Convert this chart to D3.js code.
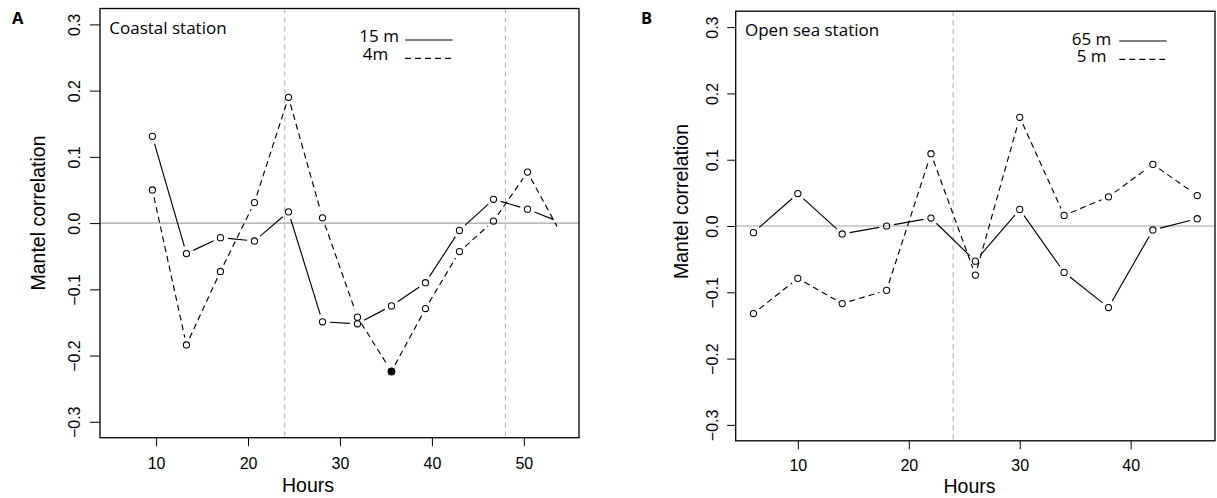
<!DOCTYPE html>
<html>
<head>
<meta charset="utf-8">
<script src="https://cdn.jsdelivr.net/npm/d3@7"></script>
<style>
  html, body { margin: 0; padding: 0; background: #fff; }
  svg { display: block; }
  .axis text { font-family: "Liberation Sans", Arial, Helvetica, sans-serif; font-size: 16px; fill: #000; }
  .axis line { stroke: #000; stroke-width: 1; }
  .axis path { display: none; }
  .title { font-family: "Liberation Sans", Arial, Helvetica, sans-serif; font-size: 19.5px; fill: #000; }
  .note { font-family: "Open Sans", "Noto Sans", sans-serif; font-size: 17px; fill: #000; }
  .tag { font-family: "Open Sans", "Noto Sans", sans-serif; font-size: 16.5px; font-weight: 700; fill: #000; }
</style>
</head>
<body>
<svg id="chart" width="1217" height="498"></svg>
<script>
// Coastal station: sampling hours and Mantel correlations at two depths
const hoursCoastal = [9.6, 13.3, 17.0, 20.7, 24.4, 28.1, 31.9, 35.6, 39.3, 43.0, 46.7, 50.4, 54.0];
const coastal15m   = [0.131, -0.046, -0.022, -0.027, 0.017, -0.149, -0.152, -0.125, -0.090, -0.011, 0.036, 0.021, 0.001];
const coastal4m    = [0.050, -0.184, -0.073, 0.031, 0.190, 0.008, -0.142, -0.224, -0.129, -0.043, 0.003, 0.077, -0.015];
const coastalFilledHours = [35.6];          // significant value on the 4 m series
const coastalMarkedCount = 12;              // last value is joined by the line only

// Open sea station
const hoursOpen = [6, 10, 14, 18, 22, 26, 30, 34, 38, 42, 46];
const open65m   = [-0.010, 0.049, -0.012, 0.000, 0.012, -0.053, 0.025, -0.070, -0.123, -0.006, 0.011];
const open5m    = [-0.132, -0.079, -0.117, -0.097, 0.109, -0.074, 0.164, 0.016, 0.044, 0.093, 0.046];

// Axis ticks and reference lines
const yTicks = [-0.3, -0.2, -0.1, 0.0, 0.1, 0.2, 0.3];
const xTicksCoastal = [10, 20, 30, 40, 50];
const xTicksOpen = [10, 20, 30, 40];
const dayLinesCoastal = [24, 48];
const dayLinesOpen = [24];

const svg = d3.select("#chart");
const fmt = v => (v < 0 ? "\u2212" : "") + Math.abs(v).toFixed(1);

function drawPanel(o) {
  const x = d3.scaleLinear().domain(o.xDomain).range([o.left, o.right]);
  const y = d3.scaleLinear().domain([-0.324, 0.324]).range([o.bottom, o.top]);
  const g = svg.append("g");

  // zero reference line
  g.append("line")
    .attr("x1", o.left).attr("x2", o.right)
    .attr("y1", y(0)).attr("y2", y(0))
    .attr("stroke", "#a3a3a3").attr("stroke-width", 1.1);

  // day boundaries
  g.selectAll("line.day").data(o.dayLines).enter().append("line")
    .attr("class", "day")
    .attr("x1", d => x(d)).attr("x2", d => x(d))
    .attr("y1", o.top).attr("y2", o.bottom)
    .attr("stroke", "#b0b0b0").attr("stroke-width", 1.1)
    .attr("stroke-dasharray", "5,4");

  // series: segments are trimmed around each point
  const gap = 7.5;
  o.series.forEach(s => {
    const pts = s.hours.map((h, i) => [x(h), y(s.values[i])]);
    for (let i = 0; i < pts.length - 1; i++) {
      const [x0, y0] = pts[i], [x1, y1] = pts[i + 1];
      const len = Math.hypot(x1 - x0, y1 - y0);
      if (len <= 2 * gap) continue;
      const ux = (x1 - x0) / len, uy = (y1 - y0) / len;
      g.append("line")
        .attr("x1", x0 + ux * gap).attr("y1", y0 + uy * gap)
        .attr("x2", x1 - ux * gap).attr("y2", y1 - uy * gap)
        .attr("stroke", "#000").attr("stroke-width", 1.15)
        .attr("stroke-dasharray", s.dash ? "6,4" : null);
    }
    const marked = s.hours.slice(0, s.marked).map((h, i) => ({ h, v: s.values[i] }));
    g.selectAll(null).data(marked).enter().append("circle")
      .attr("cx", d => x(d.h)).attr("cy", d => y(d.v))
      .attr("r", d => s.filled.includes(d.h) ? 3.4 : 3.1)
      .attr("fill", d => s.filled.includes(d.h) ? "#000" : "none")
      .attr("stroke", "#000").attr("stroke-width", 1.05);
  });

  // frame
  g.append("rect")
    .attr("x", o.left).attr("y", o.top)
    .attr("width", o.right - o.left).attr("height", o.bottom - o.top)
    .attr("fill", "none").attr("stroke", "#000").attr("stroke-width", 1.3);

  // y axis with labels parallel to the axis
  const ya = g.append("g").attr("class", "axis")
    .attr("transform", `translate(${o.left},0)`)
    .call(d3.axisLeft(y).tickValues(yTicks).tickSize(o.yTick).tickFormat(fmt));
  ya.selectAll("text")
    .attr("x", null).attr("dy", null).attr("y", null)
    .attr("text-anchor", "middle")
    .attr("transform", `translate(${o.yLabelX - o.left},0) rotate(-90)`);

  // x axis
  const xa = g.append("g").attr("class", "axis")
    .attr("transform", `translate(0,${o.bottom})`)
    .call(d3.axisBottom(x).tickValues(o.xTicks).tickSize(8.5).tickFormat(d3.format("d")));
  xa.selectAll("text").attr("dy", null).attr("y", o.xLabelY - o.bottom);

  // axis titles
  g.append("text").attr("class", "title")
    .attr("text-anchor", "middle")
    .attr("transform", `translate(${o.yTitle[0]},${o.yTitle[1]}) rotate(-90)`)
    .text("Mantel correlation");
  g.append("text").attr("class", "title")
    .attr("text-anchor", "middle")
    .attr("x", o.xTitle[0]).attr("y", o.xTitle[1])
    .text("Hours");

  // panel tag and station name
  g.append("text").attr("class", "tag").attr("x", o.tag[0]).attr("y", o.tag[1]).text(o.tagText);
  g.append("text").attr("class", "note").attr("x", o.left + 9.3).attr("y", o.top + 25).text(o.name);

  // legend
  o.legend.forEach(l => {
    g.append("text").attr("class", "note").attr("x", l.tx).attr("y", l.ty).text(l.label);
    g.append("line")
      .attr("x1", l.x1).attr("x2", l.x2).attr("y1", l.ly).attr("y2", l.ly)
      .attr("stroke", "#000").attr("stroke-width", 1.15)
      .attr("stroke-dasharray", l.dash ? "6,4" : null);
  });
}

drawPanel({
  left: 100, right: 579, top: 8.5, bottom: 437.7,
  xDomain: [3.9, 56.0], xTicks: xTicksCoastal, dayLines: dayLinesCoastal,
  yTick: 10, yLabelX: 80, xLabelY: 469,
  yTitle: [45, 213], xTitle: [308, 491.7],
  tag: [12, 24], tagText: "A", name: "Coastal station",
  series: [
    { hours: hoursCoastal, values: coastal15m, dash: false, marked: coastalMarkedCount, filled: [] },
    { hours: hoursCoastal, values: coastal4m, dash: true, marked: coastalMarkedCount, filled: coastalFilledHours }
  ],
  legend: [
    { label: "15 m", tx: 359.3, ty: 41.7, x1: 405, x2: 452.7, ly: 40, dash: false },
    { label: "4m", tx: 362.7, ty: 60, x1: 405, x2: 451, ly: 58.3, dash: true }
  ]
});

drawPanel({
  left: 735.7, right: 1215, top: 11.2, bottom: 440.8,
  xDomain: [4.4, 47.6], xTicks: xTicksOpen, dayLines: dayLinesOpen,
  yTick: 8.5, yLabelX: 717.5, xLabelY: 470.7,
  yTitle: [688, 201.5], xTitle: [969.5, 493],
  tag: [641, 24], tagText: "B", name: "Open sea station",
  series: [
    { hours: hoursOpen, values: open65m, dash: false, marked: hoursOpen.length, filled: [] },
    { hours: hoursOpen, values: open5m, dash: true, marked: hoursOpen.length, filled: [] }
  ],
  legend: [
    { label: "65 m", tx: 1071.7, ty: 45, x1: 1119.3, x2: 1166.7, ly: 41, dash: false },
    { label: "5 m", tx: 1076.7, ty: 62.3, x1: 1119.3, x2: 1165, ly: 59.3, dash: true }
  ]
});
</script>
</body>
</html>
